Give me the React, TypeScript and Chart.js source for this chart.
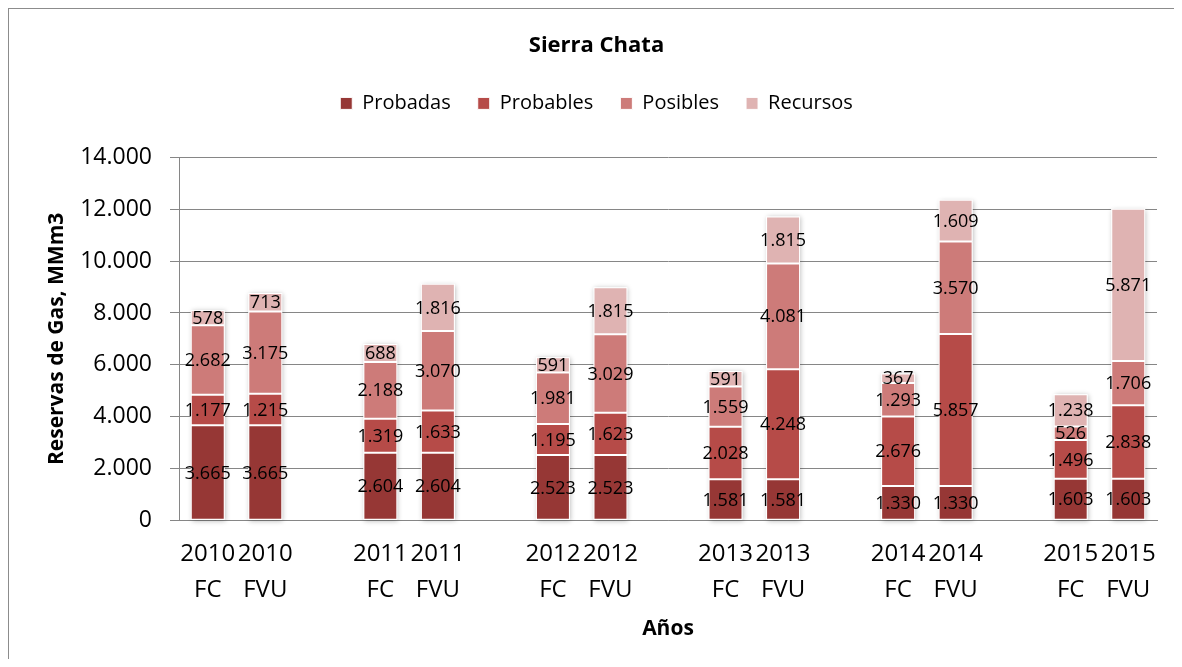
import React, { useEffect, useRef } from 'react';
import { Chart, registerables } from 'chart.js';

Chart.register(...registerables);

const categories: (string | string[])[] = [
  ['2010', 'FC'], ['2010', 'FVU'], '',
  ['2011', 'FC'], ['2011', 'FVU'], '',
  ['2012', 'FC'], ['2012', 'FVU'], '',
  ['2013', 'FC'], ['2013', 'FVU'], '',
  ['2014', 'FC'], ['2014', 'FVU'], '',
  ['2015', 'FC'], ['2015', 'FVU'],
];

const probadas = [3665, 3665, null, 2604, 2604, null, 2523, 2523, null, 1581, 1581, null, 1330, 1330, null, 1603, 1603];
const probables = [1177, 1215, null, 1319, 1633, null, 1195, 1623, null, 2028, 4248, null, 2676, 5857, null, 1496, 2838];
const posibles = [2682, 3175, null, 2188, 3070, null, 1981, 3029, null, 1559, 4081, null, 1293, 3570, null, 526, 1706];
const recursos = [578, 713, null, 688, 1816, null, 591, 1815, null, 591, 1815, null, 367, 1609, null, 1238, 5871];

const seriesNames = ['Probadas', 'Probables', 'Posibles', 'Recursos'];
const seriesColors = ['#963735', '#B64B48', '#CD7B79', '#DFB3B2'];

const chartTitle = 'Sierra Chata';
const yTitle = 'Reservas de Gas, MMm3';
const xTitle = 'Años';

const FONT = '"Open Sans", "DejaVu Sans", sans-serif';

const fmt = (v: number) => String(Math.round(v)).replace(/\B(?=(\d{3})+(?!\d))/g, '.');

const shadowPlugin = {
  id: 'barShadow',
  beforeDatasetsDraw(chart: any) {
    const ctx = chart.ctx;
    const n = chart.data.labels.length;
    ctx.save();
    for (let i = 0; i < n; i++) {
      let top = Infinity;
      let bottom = -Infinity;
      let x = 0;
      let w = 0;
      chart.data.datasets.forEach((ds: any, di: number) => {
        if (ds.data[i] == null) return;
        const el = chart.getDatasetMeta(di).data[i];
        if (!el) return;
        const p = el.getProps(['x', 'y', 'base', 'width'], true);
        top = Math.min(top, p.y, p.base);
        bottom = Math.max(bottom, p.y, p.base);
        x = p.x;
        w = p.width;
      });
      if (!isFinite(top)) continue;
      ctx.shadowColor = 'rgba(0,0,0,0.28)';
      ctx.shadowBlur = 5;
      ctx.shadowOffsetX = 1;
      ctx.shadowOffsetY = 1;
      ctx.fillStyle = '#ffffff';
      ctx.fillRect(x - w / 2, top, w, bottom - top);
    }
    ctx.restore();
  },
};

const labelPlugin = {
  id: 'segLabels',
  afterDatasetsDraw(chart: any) {
    const ctx = chart.ctx;
    ctx.save();
    ctx.font = `18px ${FONT}`;
    ctx.fillStyle = '#000000';
    ctx.textAlign = 'center';
    ctx.textBaseline = 'middle';
    chart.data.datasets.forEach((ds: any, di: number) => {
      const meta = chart.getDatasetMeta(di);
      meta.data.forEach((el: any, i: number) => {
        const v = ds.data[i];
        if (v == null) return;
        const p = el.getProps(['x', 'y', 'base'], true);
        ctx.fillText(fmt(v), p.x, (p.y + p.base) / 2 + 1);
      });
    });
    ctx.restore();
  },
};

export default function App() {
  const ref = useRef<HTMLCanvasElement | null>(null);

  useEffect(() => {
    if (!ref.current) return;
    const data = [probadas, probables, posibles, recursos];
    const chart = new Chart(ref.current, {
      type: 'bar',
      data: {
        labels: categories as any,
        datasets: data.map((d, i) => ({
          label: seriesNames[i],
          data: d as any,
          backgroundColor: seriesColors[i],
          borderColor: '#ffffff',
          borderWidth: 1,
          borderSkipped: false,
          categoryPercentage: 1,
          barPercentage: 0.59,
        })),
      },
      options: {
        animation: false,
        responsive: false,
        layout: { padding: { left: 27, right: 17, top: 0, bottom: 13 } },
        plugins: {
          tooltip: { enabled: false },
          title: {
            display: true,
            text: chartTitle,
            color: '#000000',
            font: { family: FONT, size: 22, weight: 'bold' },
            padding: { top: 24, bottom: 7 },
          },
          legend: {
            display: true,
            position: 'top',
            labels: {
              color: '#000000',
              font: { family: FONT, size: 20 },
              boxWidth: 12,
              boxHeight: 12,
              padding: 27,
            },
          },
          subtitle: {
            display: true,
            text: ' ',
            weight: 500,
            font: { size: 1, lineHeight: 1 },
            padding: { top: 0, bottom: 33 },
          } as any,
        },
        scales: {
          x: {
            stacked: true,
            offset: true,
            grid: { display: false, drawTicks: false },
            border: { display: true, color: '#868686', width: 1 },
            ticks: {
              autoSkip: false,
              maxRotation: 0,
              minRotation: 0,
              padding: 15,
              color: '#000000',
              font: { family: FONT, size: 24, lineHeight: 1.53 },
            },
            title: {
              display: true,
              text: xTitle,
              color: '#000000',
              font: { family: FONT, size: 21, weight: 'bold' },
              padding: { top: -7, bottom: 4 },
            },
          },
          y: {
            stacked: true,
            min: 0,
            max: 14000,
            grid: { color: '#868686', lineWidth: 1, tickLength: 9, drawTicks: true },
            border: { display: true, color: '#868686', width: 1 },
            ticks: {
              stepSize: 2000,
              padding: 18,
              color: '#000000',
              font: { family: FONT, size: 23 },
              callback: (v: any) => fmt(Number(v)),
            },
            title: {
              display: true,
              text: yTitle,
              color: '#000000',
              font: { family: FONT, size: 21, weight: 'bold' },
              padding: { top: 8, bottom: 4 },
            },
            afterFit: (scale: any) => {
              scale.width = 143;
            },
          },
        },
      },
      plugins: [shadowPlugin, labelPlugin],
    });
    return () => chart.destroy();
  }, []);

  return (
    <div
      style={{
        width: 1166,
        height: 651,
        borderLeft: '1px solid #8c8c8c',
        borderTop: '1px solid #8c8c8c',
        boxSizing: 'border-box',
        background: '#ffffff',
      }}
    >
      <canvas ref={ref} width={1165} height={650} style={{ display: 'block' }} />
    </div>
  );
}
